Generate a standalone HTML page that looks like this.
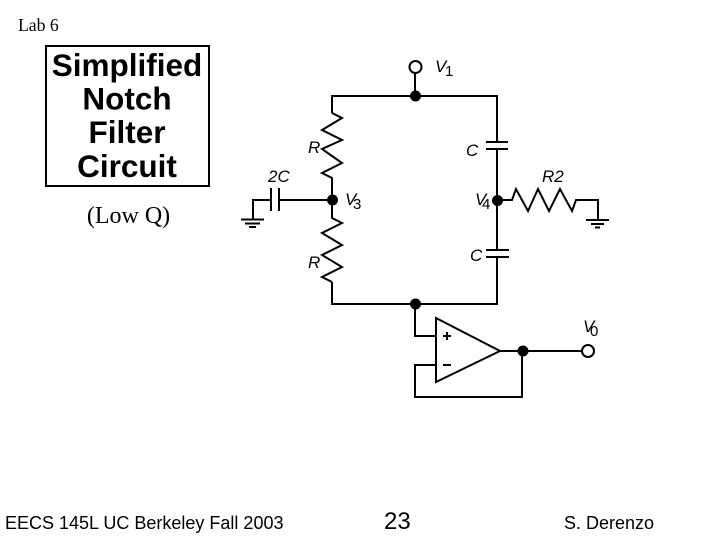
<!DOCTYPE html>
<html><head><meta charset="utf-8"><style>html,body{margin:0;padding:0;background:#fff}svg{display:block}</style></head>
<body><svg width="720" height="540" viewBox="0 0 720 540" xmlns="http://www.w3.org/2000/svg">
<rect width="720" height="540" fill="#fff"/>
<g font-family="'Liberation Serif',serif" fill="#000">
<text x="18" y="31" font-size="17.700">Lab 6</text>
<text x="128.500" y="223" font-size="24" text-anchor="middle">(Low Q)</text>
</g>
<rect x="46" y="46" width="163" height="140" fill="none" stroke="#000" stroke-width="2"/>
<g font-family="'Liberation Sans',sans-serif" font-size="31.500" font-weight="bold" text-anchor="middle" fill="#000">
<text x="127" y="76">Simplified</text>
<text x="127" y="109.500">Notch</text>
<text x="127" y="143">Filter</text>
<text x="127" y="177">Circuit</text>
</g>
<g font-family="'Liberation Sans',sans-serif" fill="#000">
<text x="5" y="529" font-size="18">EECS 145L UC Berkeley Fall 2003</text>
<text x="384" y="529" font-size="24">23</text>
<text x="564" y="529" font-size="18">S. Derenzo</text>
</g>
<g fill="none" stroke="#000" stroke-width="2" stroke-linejoin="miter">
<path d="M415 73V96M332 113V96H497V142M497 149V250M497 257V304H332V282"/>
<path d="M332 113L342 118L322 130L342 140L322 149L342 163L322 173L332 178V218L342 223L322 233L342 245L322 255L342 267L322 277L332 282"/>
<path d="M332 200H279M279 188V211M271 188V211M271 200H253V219"/>
<path d="M241 219.500H264M245 223.500H260M249 227H256"/>
<path d="M486 142H508M486 149H508M486 250H509M486 257H509"/>
<path d="M497 200H512L516 189L528 211L538 189L549 211L560 189L572 211L576 200H598V220"/>
<path d="M586 220H609M591 224H604M595 227.500H600"/>
<path d="M436 318L500 351L436 382Z"/>
<path d="M415 304V336H436M436 365H415V397H522V351M500 351H582"/>
</g>
<g fill="#000">
<circle cx="415.500" cy="96" r="5.500"/>
<circle cx="332.500" cy="200" r="5.500"/>
<circle cx="497.500" cy="200.500" r="5.500"/>
<circle cx="415.500" cy="304" r="5.500"/>
<circle cx="523" cy="351" r="5.500"/>
</g>
<g fill="#fff" stroke="#000" stroke-width="2">
<circle cx="415.500" cy="67" r="6"/>
<circle cx="588" cy="351" r="6"/>
</g>
<path d="M443 336H451M447 332V340M443 365H451" stroke="#000" stroke-width="2" fill="none"/>
<g font-family="'Liberation Sans',sans-serif" font-size="17" fill="#000">
<text x="435" y="72" font-style="italic">V</text><text x="445" y="76" font-size="15">1</text>
<text x="345" y="205" font-style="italic">V</text><text x="353" y="209" font-size="15">3</text>
<text x="475" y="205" font-style="italic">V</text><text x="482" y="209" font-size="15">4</text>
<text x="583" y="332" font-style="italic">V</text><text x="590" y="336" font-size="15">0</text>
<text x="308" y="153" font-style="italic">R</text>
<text x="308" y="268" font-style="italic">R</text>
<text x="268" y="182" font-style="italic">2C</text>
<text x="466" y="156" font-style="italic">C</text>
<text x="470" y="261" font-style="italic">C</text>
<text x="542" y="182" font-style="italic">R2</text>
</g>
</svg></body></html>
